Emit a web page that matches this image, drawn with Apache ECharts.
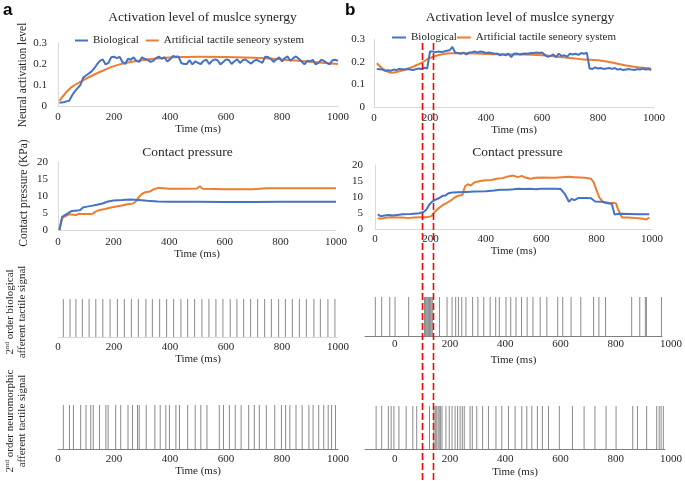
<!DOCTYPE html>
<html><head><meta charset="utf-8">
<script src="https://cdn.jsdelivr.net/npm/echarts@6/dist/echarts.min.js"></script>
<style>html,body{margin:0;padding:0;background:#fff}#c{width:685px;height:481px}</style>
</head><body><div id="c"></div><script>
// ---------- DATA ----------
const xTicks = [0, 200, 400, 600, 800, 1000];
const seriesNames = ['Biological', 'Artificial tactile seneory system'];
// Activation level of muscle synergy, panel a  [time ms, level]
const actBioA = [[5,0.015],[10,0.016],[20,0.018],[30,0.022],[40,0.025],[50,0.05],[60,0.07],[70,0.085],[80,0.1],[90,0.135],[100,0.145],[110,0.155],[120,0.165],[130,0.18],[140,0.2],[150,0.215],[160,0.222],[170,0.198],[180,0.205],[190,0.232],[200,0.235],[210,0.228],[220,0.234],[230,0.21],[240,0.2],[250,0.225],[260,0.22],[270,0.232],[280,0.215],[290,0.21],[300,0.232],[310,0.224],[320,0.22],[330,0.21],[340,0.215],[350,0.228],[360,0.235],[370,0.225],[380,0.232],[390,0.212],[400,0.222],[410,0.238],[420,0.235],[430,0.236],[440,0.205],[450,0.2],[460,0.2],[470,0.218],[480,0.198],[490,0.212],[500,0.205],[510,0.2],[520,0.215],[530,0.22],[540,0.2],[550,0.215],[560,0.222],[570,0.218],[580,0.198],[590,0.21],[600,0.222],[610,0.219],[620,0.2],[630,0.213],[640,0.222],[650,0.205],[660,0.218],[670,0.222],[680,0.21],[690,0.202],[700,0.215],[710,0.22],[720,0.212],[730,0.205],[740,0.235],[750,0.233],[760,0.225],[770,0.21],[780,0.222],[790,0.232],[800,0.212],[810,0.228],[820,0.236],[830,0.215],[840,0.228],[850,0.236],[860,0.225],[870,0.212],[880,0.198],[890,0.215],[900,0.212],[910,0.22],[920,0.198],[930,0.205],[940,0.22],[950,0.215],[960,0.205],[970,0.198],[980,0.218],[990,0.22],[1000,0.215]];
const actArtA = [[5,0.025],[20,0.05],[40,0.08],[60,0.1],[80,0.115],[100,0.13],[130,0.15],[160,0.168],[200,0.19],[250,0.207],[300,0.218],[350,0.226],[400,0.231],[500,0.234],[600,0.233],[700,0.23],[800,0.222],[900,0.211],[1000,0.2]];
// Activation level, panel b
const actBioB = [[10,0.168],[20,0.167],[30,0.165],[40,0.16],[50,0.162],[60,0.16],[70,0.165],[80,0.163],[90,0.168],[100,0.167],[110,0.165],[120,0.168],[130,0.165],[140,0.163],[150,0.167],[160,0.17],[170,0.168],[180,0.173],[190,0.17],[195,0.168],[200,0.245],[210,0.245],[220,0.242],[230,0.245],[240,0.243],[250,0.245],[260,0.248],[270,0.25],[280,0.265],[290,0.24],[300,0.238],[310,0.235],[320,0.24],[330,0.232],[340,0.24],[350,0.242],[360,0.245],[370,0.24],[380,0.245],[390,0.243],[400,0.238],[410,0.24],[420,0.238],[430,0.235],[440,0.236],[450,0.228],[460,0.232],[470,0.228],[480,0.235],[490,0.22],[500,0.235],[510,0.236],[520,0.232],[530,0.235],[540,0.236],[550,0.235],[560,0.238],[570,0.238],[580,0.24],[590,0.238],[600,0.24],[610,0.23],[620,0.222],[630,0.225],[640,0.232],[650,0.22],[660,0.235],[670,0.225],[680,0.228],[690,0.222],[700,0.235],[710,0.232],[720,0.235],[730,0.23],[740,0.238],[750,0.235],[760,0.24],[770,0.17],[780,0.168],[790,0.175],[800,0.17],[810,0.172],[820,0.168],[830,0.17],[840,0.172],[850,0.168],[860,0.172],[870,0.165],[880,0.168],[890,0.163],[900,0.165],[910,0.168],[920,0.165],[930,0.163],[940,0.167],[950,0.165],[960,0.17],[970,0.165],[980,0.168],[990,0.163]];
const actArtB = [[10,0.193],[30,0.17],[50,0.155],[65,0.151],[90,0.158],[125,0.171],[167,0.193],[190,0.21],[214,0.223],[240,0.232],[274,0.237],[320,0.237],[400,0.234],[500,0.232],[600,0.228],[650,0.222],[700,0.216],[750,0.21],[800,0.206],[850,0.196],[900,0.183],[950,0.174],[990,0.17]];
// Contact pressure (KPa), panel a
const presBioA = [[5,0],[15,3.9],[25,4.4],[35,4.9],[50,5.6],[70,5.7],[80,5.9],[90,6.6],[100,6.8],[120,7.1],[140,7.4],[160,7.8],[180,8.4],[200,8.7],[230,8.8],[260,9.0],[290,8.8],[320,8.6],[360,8.4],[400,8.3],[500,8.3],[600,8.25],[650,8.2],[700,8.25],[800,8.3],[900,8.3],[1000,8.3]];
const presArtA = [[5,0],[15,3.5],[25,4.0],[40,4.6],[55,4.5],[65,4.4],[75,4.8],[90,4.7],[110,4.7],[125,4.8],[135,5.4],[150,5.9],[170,6.2],[190,6.6],[210,6.9],[230,7.2],[250,7.6],[270,7.8],[280,8.4],[290,9.6],[300,10.5],[310,11.0],[330,11.3],[345,12.0],[360,12.4],[380,12.3],[400,12.1],[450,12.1],[500,12.2],[510,12.9],[520,12.1],[600,12.0],[700,12.0],[750,12.3],[850,12.3],[1000,12.3]];
// Contact pressure, panel b
const presBioB = [[10,4.6],[20,4.0],[35,4.2],[50,4.4],[65,4.2],[80,4.4],[100,4.6],[130,4.7],[160,4.9],[175,5.3],[185,6.0],[195,7.5],[205,8.5],[215,9.0],[230,9.6],[245,10.4],[255,10.5],[265,11.2],[280,11.4],[300,11.5],[330,11.6],[360,11.7],[400,11.8],[430,12.0],[450,12.3],[480,12.3],[500,12.4],[520,12.6],[540,12.5],[560,12.6],[580,12.4],[600,12.6],[620,12.6],[650,12.6],[670,12.5],[685,11.0],[700,8.5],[710,9.4],[720,9.0],[735,9.7],[760,9.7],[780,9.6],[795,8.6],[820,8.5],[840,8.2],[855,7.8],[865,4.5],[875,4.7],[890,4.8],[920,4.7],[950,4.6],[990,4.6]];
const presArtB = [[10,3.4],[20,3.2],[40,3.5],[60,3.7],[80,3.6],[100,3.6],[120,3.4],[140,3.6],[160,3.7],[180,3.7],[195,3.8],[205,4.1],[215,5.3],[230,6.5],[245,7.5],[260,8.2],[275,9.0],[290,10.0],[305,10.5],[315,10.6],[325,13.3],[335,14.0],[345,13.6],[360,14.6],[380,15.0],[400,15.2],[420,15.3],[440,15.7],[460,15.9],[480,16.4],[500,16.7],[515,16.2],[530,16.6],[545,16.0],[560,15.7],[580,16.0],[600,16.1],[650,16.0],[700,16.3],[720,16.2],[740,16.1],[760,16.0],[780,15.7],[790,14.5],[800,12.0],[810,9.8],[825,8.3],[840,8.0],[860,8.2],[870,8.0],[878,6.0],[885,6.5],[892,3.6],[910,3.6],[940,3.4],[960,3.3],[980,3.0],[990,3.6]];
// Spike times (ms)
const bioSpikesA = [19,43,64,87,111,135,160,186,212,237,262,287,314,337,363,388,413,439,463,488,514,539,564,589,615,639,663,688,713,738,762,788,812,837,862,887,914,937,964,989];
const neuroSpikesA = [19,41,55,81,100,117,126,148,171,179,206,224,250,266,284,290,315,346,365,385,398,421,434,463,490,510,532,576,591,612,633,654,681,701,719,744,774,798,813,828,850,872,896,911,931,949,965,977,991];
const bioSpikesB = [-71,-48,-19,0,49,106,109,112,115,118,121,124,127,130,134,160,187,205,218,228,240,255,279,298,319,342,362,375,399,416,435,455,475,496,522,546,585,603,633,668,714,733,757,851,880,900,904,958];
const neuroSpikesB = [-68,-48,-24,-14,-4,14,40,64,78,124,140,145,150,155,159,164,169,183,195,205,216,225,234,242,249,270,278,294,315,336,363,384,408,432,456,474,492,512,530,552,591,638,680,719,759,795,855,872,905,941,950,957,965];
// Dashed marker times (on panel b top time axis)
const markerTimes = [172, 211];

// ---------- STYLE ----------
const FONT = 'Liberation Serif';
const BLUE = '#4472C4', ORANGE = '#ED7D31';
const TXT = '#262626';
const chart = echarts.init(document.getElementById('c'), null, {renderer: 'canvas'});
const plainFmt = v => String(v);

function lineS(name, data, color, idx, smooth) {
  return {type: 'line', name: name, data: data, xAxisIndex: idx, yAxisIndex: idx,
    symbol: 'none', smooth: smooth || false, lineStyle: {color: color, width: 2},
    itemStyle: {color: color}, animation: false, z: color === BLUE ? 3 : 2};
}
function spikeS(data, idx) {
  return {type: 'bar', data: data.map(t => [t, 1]), xAxisIndex: idx, yAxisIndex: idx,
    barWidth: 1, itemStyle: {color: '#8a8a8a'}, animation: false, silent: true};
}
function lab(margin, extra) {
  return Object.assign({color: TXT, fontFamily: FONT, fontSize: 11, margin: margin, formatter: plainFmt}, extra || {});
}
function xAx(gi, o) {
  const base = {type: 'value', gridIndex: gi, min: 0, max: 1000, interval: 200,
    axisLine: {show: true, onZero: false, lineStyle: {color: '#d9d9d9', width: 1}},
    axisTick: {show: false}, splitLine: {show: false},
    axisLabel: lab(6),
    name: 'Time (ms)', nameLocation: 'middle', nameGap: 17,
    nameTextStyle: {color: TXT, fontFamily: FONT, fontSize: 11}};
  return Object.assign(base, o || {});
}
function yAx(gi, o) {
  const base = {type: 'value', gridIndex: gi, axisLine: {show: true, lineStyle: {color: '#d9d9d9'}},
    axisTick: {show: false}, splitLine: {show: false},
    axisLabel: lab(10)};
  return Object.assign(base, o || {});
}
const hiddenY = gi => ({type: 'value', gridIndex: gi, min: 0, max: 1, show: false});
const bLabelFmt = v => (xTicks.indexOf(v) >= 0 ? String(v) : '');

const grids = [
  {left: 58, top: 43, width: 280, height: 63},
  {left: 374, top: 39, width: 280, height: 68},
  {left: 58, top: 162, width: 278, height: 68},
  {left: 375, top: 165, width: 277, height: 64},
  {left: 58, top: 299, width: 280, height: 38},
  {left: 365, top: 297, width: 297, height: 39},
  {left: 365, top: 297, width: 308, height: 39},
  {left: 58, top: 405, width: 280, height: 44},
  {left: 365, top: 406, width: 300, height: 43},
  {left: 365, top: 406, width: 308, height: 43}
];

const darkLine = {show: true, onZero: false, lineStyle: {color: '#808080'}};
const xAxes = [
  xAx(0, {}),
  xAx(1, {axisLabel: lab(6)}),
  xAx(2, {axisLabel: lab(7), nameGap: 16}),
  xAx(3, {axisLabel: lab(5), nameGap: 17}),
  xAx(4, {axisLabel: lab(5), nameGap: 17}),
  xAx(5, {min: -108, max: 960, interval: null, axisLabel: {show: false}, nameGap: 19, axisLine: darkLine}),
  xAx(6, {min: -108, max: 1000, interval: null, name: '', axisLine: {show: false},
    axisLabel: lab(3, {customValues: xTicks, formatter: bLabelFmt})}),
  xAx(7, {axisLabel: lab(5), nameGap: 17, axisLine: darkLine}),
  xAx(8, {min: -108, max: 971, interval: null, axisLabel: {show: false}, nameGap: 18, axisLine: darkLine}),
  xAx(9, {min: -108, max: 1000, interval: null, name: '', axisLine: {show: false},
    axisLabel: lab(5, {customValues: xTicks, formatter: bLabelFmt})})
];
const yAxes = [
  yAx(0, {min: 0, max: 0.3, interval: 0.1, axisLabel: lab(11)}),
  yAx(1, {min: 0, max: 0.3, interval: 0.1, axisLabel: lab(9)}),
  yAx(2, {min: 0, max: 20, interval: 5, axisLabel: lab(10)}),
  yAx(3, {min: 0, max: 20, interval: 5, axisLabel: lab(12)}),
  hiddenY(4), hiddenY(5), hiddenY(6), hiddenY(7), hiddenY(8), hiddenY(9)
];

const series = [
  lineS(seriesNames[0], actBioA, BLUE, 0),
  lineS(seriesNames[1], actArtA, ORANGE, 0, true),
  lineS(seriesNames[0], actBioB, BLUE, 1),
  lineS(seriesNames[1], actArtB, ORANGE, 1, true),
  lineS(seriesNames[0], presBioA, BLUE, 2),
  lineS(seriesNames[1], presArtA, ORANGE, 2),
  lineS(seriesNames[0], presBioB, BLUE, 3),
  lineS(seriesNames[1], presArtB, ORANGE, 3),
  spikeS(bioSpikesA, 4),
  spikeS(bioSpikesB, 5),
  spikeS(neuroSpikesA, 7),
  spikeS(neuroSpikesB, 8)
];

const legendText = {color: TXT, fontFamily: FONT, fontSize: 11};
const legends = [
  {data: seriesNames, left: 75, top: 35, padding: 0, icon: 'rect', itemWidth: 13, itemHeight: 2, itemGap: 7, textStyle: legendText, selectedMode: false},
  {data: seriesNames, left: 392, top: 32, padding: 0, icon: 'rect', itemWidth: 14, itemHeight: 2, itemGap: 0, textStyle: legendText, selectedMode: false}
];

function txt(id, x, y, text, o) {
  return Object.assign({type: 'text', id: id, x: x, y: y, silent: true,
    style: Object.assign({text: text, fill: TXT, font: '13.5px "Liberation Serif"', align: 'center', verticalAlign: 'middle'}, (o && o.style) || {})},
    o && o.rotation ? {rotation: o.rotation} : {});
}
const rich = {
  n: {fontFamily: FONT, fontSize: 11, lineHeight: 12, fill: TXT},
  s: {fontFamily: FONT, fontSize: 7, lineHeight: 12, verticalAlign: 'top', fill: TXT}
};
const R = Math.PI / 2;
const baseGraphics = [
  txt('pa', 3, 10, 'a', {style: {font: 'bold 17px "Liberation Sans"', align: 'left', fill: '#000'}}),
  txt('pb', 345, 10, 'b', {style: {font: 'bold 17px "Liberation Sans"', align: 'left', fill: '#000'}}),
  txt('t1', 202.5, 17, 'Activation level of muslce synergy'),
  txt('t2', 520, 17, 'Activation level of muslce synergy'),
  txt('t3', 187.5, 152, 'Contact pressure'),
  txt('t4', 517.5, 152, 'Contact pressure'),
  txt('y1', 22.5, 75, 'Neural activation level', {rotation: R, style: {font: '11.5px "Liberation Serif"'}}),
  txt('y2', 24, 193, 'Contact pressure (KPa)', {rotation: R, style: {font: '11.5px "Liberation Serif"'}}),
  {type: 'text', id: 'y3', x: 16, y: 312, rotation: R, silent: true,
    style: {text: '{n|2}{s|nd}{n| order biological}\n{n|afferent tactile signal}', rich: rich, align: 'center', verticalAlign: 'middle', fill: TXT}},
  {type: 'text', id: 'y4', x: 16, y: 421, rotation: R, silent: true,
    style: {text: '{n|2}{s|nd}{n| order neuromorphic}\n{n|afferent tactile signal}', rich: rich, align: 'center', verticalAlign: 'middle', fill: TXT}}
];

chart.setOption({
  animation: false,
  backgroundColor: '#fff',
  grid: grids,
  xAxis: xAxes,
  yAxis: yAxes,
  legend: legends,
  series: series,
  graphic: {elements: baseGraphics}
});

const markerEls = markerTimes.map((t, i) => {
  const px = Math.round(chart.convertToPixel({gridIndex: 1}, [t, 0])[0]) + 0.5;
  return {type: 'line', id: 'mk' + i, silent: true, z: 100,
    shape: {x1: px, y1: 43, x2: px, y2: 481},
    style: {stroke: '#ff0000', lineWidth: 1.6, lineDash: [7, 3]}};
});
chart.setOption({graphic: {elements: baseGraphics.concat(markerEls)}});
</script></body></html>
